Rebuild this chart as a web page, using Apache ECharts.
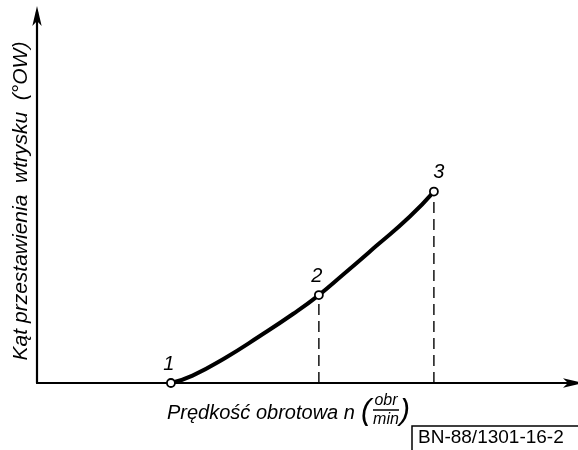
<!DOCTYPE html>
<html><head><meta charset="utf-8">
<script src="https://cdn.jsdelivr.net/npm/echarts@6/dist/echarts.min.js"></script>
<style>html,body{margin:0;padding:0;background:#fff}#c{width:578px;height:450px}</style>
</head><body><div id="c"></div>
<script>
// curve (abstract units 0..100 on both axes)
const curveX = [24.8, 28.8, 35.0, 41.2, 47.4, 52.2, 56.6, 62.8, 69.0, 73.5];
const curveY = [0.0, 2.0, 6.9, 12.6, 18.6, 23.7, 29.1, 36.9, 44.8, 51.6];
// marked operating points
const pointNames = ['1', '2', '3'];
const pointX = [24.8, 52.2, 73.5];
const pointY = [0.0, 23.7, 51.6];
const yTitle = 'Kąt przestawienia  wtrysku  (°OW)';
const xTitle = 'Prędkość obrotowa n';
const unitNum = 'obr', unitDen = 'min';
const stdCode = 'BN-88/1301-16-2';

const FONT = '"Liberation Sans","DejaVu Sans",sans-serif';
const chart = echarts.init(document.getElementById('c'), null, {renderer: 'canvas'});
const axisCommon = {
  type: 'value', min: 0, max: 100,
  axisLine: {show: true, symbol: ['none', 'arrow'], symbolSize: [7, 20], symbolOffset: [0, 6],
    lineStyle: {color: '#000', width: 2.2}},
  axisTick: {show: false}, axisLabel: {show: false}, splitLine: {show: false}
};
const drops = pointX.slice(1).map((x, i) => ({
  type: 'line', silent: true, symbol: 'none', z: 1,
  data: [[x, 0], [x, pointY[i + 1]]],
  lineStyle: {color: '#000', width: 1.4, type: [11, 6]}
}));
chart.setOption({
  animation: false,
  grid: {left: 37, right: 1, top: 12, bottom: 67},
  xAxis: Object.assign({}, axisCommon),
  yAxis: Object.assign({}, axisCommon),
  series: [
    ...drops,
    {type: 'line', smooth: 0.5, symbol: 'none', z: 2,
     data: curveX.map((x, i) => [x, curveY[i]]),
     lineStyle: {color: '#000', width: 4}},
    {type: 'scatter', z: 3, symbol: 'circle', symbolSize: 8,
     itemStyle: {color: '#fff', borderColor: '#000', borderWidth: 1.8, opacity: 1},
     data: pointX.map((x, i) => ({value: [x, pointY[i]], name: pointNames[i],
       label: {offset: i === 2 ? [5, 0] : [-2, 0]}})),
     label: {show: true, position: 'top', distance: 4, formatter: p => p.name,
       fontFamily: FONT, fontStyle: 'italic', fontSize: 20, color: '#000'}}
  ],
  graphic: [
    {type: 'text', x: 21, y: 201, rotation: Math.PI / 2,
     style: {text: yTitle, font: 'italic 21px ' + FONT, fill: '#000', align: 'center', verticalAlign: 'middle'}},
    {type: 'text', x: 167, y: 413,
     style: {text: xTitle, font: 'italic 20px ' + FONT, fill: '#000', align: 'left', verticalAlign: 'middle'}},
    {type: 'text', x: 366, y: 412,
     style: {text: '(', font: 'italic 30px ' + FONT, fill: '#000', align: 'center', verticalAlign: 'middle'}},
    {type: 'text', x: 386, y: 401,
     style: {text: unitNum, font: 'italic 16px ' + FONT, fill: '#000', align: 'center', verticalAlign: 'middle'}},
    {type: 'line', shape: {x1: 373, y1: 410, x2: 399, y2: 410}, style: {stroke: '#000', lineWidth: 1.5}},
    {type: 'text', x: 386, y: 420,
     style: {text: unitDen, font: 'italic 16px ' + FONT, fill: '#000', align: 'center', verticalAlign: 'middle'}},
    {type: 'text', x: 405, y: 412,
     style: {text: ')', font: 'italic 30px ' + FONT, fill: '#000', align: 'center', verticalAlign: 'middle'}},
    {type: 'polyline', shape: {points: [[412, 450], [412, 426], [578, 426]]}, style: {stroke: '#000', lineWidth: 1.5, fill: null}},
    {type: 'text', x: 418, y: 438,
     style: {text: stdCode, font: '19px ' + FONT, fill: '#000', align: 'left', verticalAlign: 'middle'}}
  ]
});
</script></body></html>
